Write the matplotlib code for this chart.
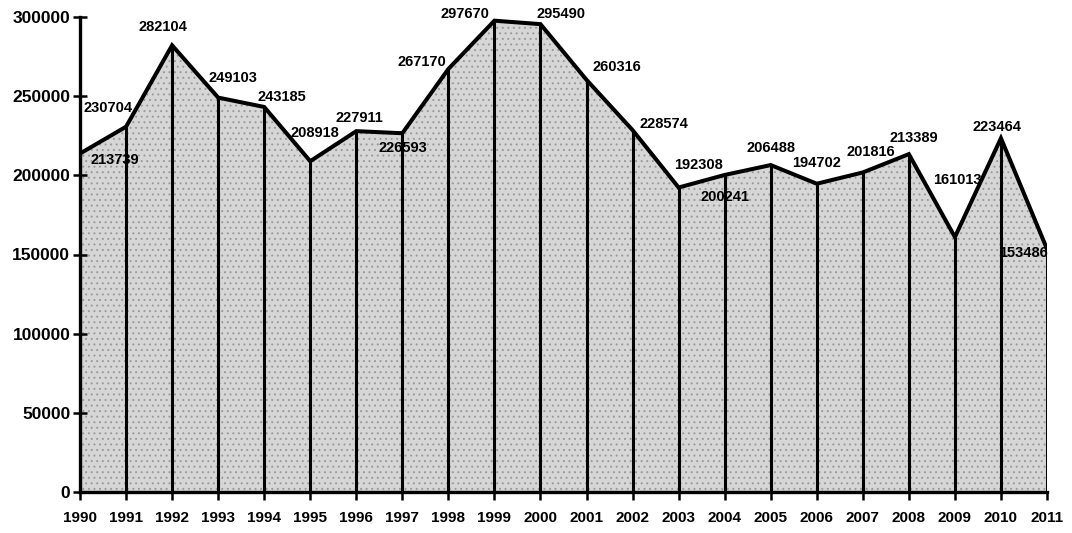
import matplotlib.pyplot as plt

years = list(range(1990, 2012))
values = [213739, 230704, 282104, 249103, 243185, 208918, 227911, 226593,
          267170, 297670, 295490, 260316, 228574, 192308, 200241, 206488,
          194702, 201816, 213389, 161013, 223464, 153486]
y_ticks = [0, 50000, 100000, 150000, 200000, 250000, 300000]

# where each value label sits relative to its point (pixels, y up)
label_offsets = [(35, -6), (-18, 19), (-9, 18), (15, 20), (18, 10), (5, 28),
                 (3, 13), (1, -15), (-27, 7), (-29, 7), (21, 10), (30, 13),
                 (31, 6), (20, 23), (0, -22), (0, 17), (0, 21), (8, 20),
                 (5, 16), (2, 57), (-4, 11), (-23, -4)]

plt.rcParams['font.family'] = ['Liberation Sans', 'DejaVu Sans']
plt.rcParams['font.weight'] = 'bold'
plt.rcParams['hatch.color'] = '#858585'
plt.rcParams['hatch.linewidth'] = 0.7

fig = plt.figure(figsize=(10.72, 5.33), dpi=100)
ax = fig.add_axes([80 / 1072, 41 / 533, 967 / 1072, 475 / 533])

ax.fill_between(years, values, 0, facecolor='#d6d6d6', edgecolor='#9a9a9a',
                hatch='...', linewidth=0)
ax.vlines(years, 0, values, color='black', linewidth=2.2)
ax.plot(years, values, color='black', linewidth=2.9, solid_joinstyle='miter')

for x, v, off in zip(years, values, label_offsets):
    ax.annotate(str(v), (x, v), xytext=off, textcoords='offset pixels',
                ha='center', va='center', fontsize=10.5, fontweight='bold')

ax.set_xlim(1990, 2011)
ax.set_ylim(0, 300000)
ax.set_xticks(years)
ax.set_xticklabels([str(y) for y in years], fontsize=11, fontweight='bold')
ax.set_yticks(y_ticks)
ax.set_yticklabels([str(t) for t in y_ticks], fontsize=12.5, fontweight='bold')

ax.spines['top'].set_visible(False)
ax.spines['right'].set_visible(False)
ax.spines['left'].set_linewidth(2.4)
ax.spines['bottom'].set_linewidth(2.4)
ax.tick_params(axis='y', direction='inout', length=10, width=1.8, pad=2)
ax.tick_params(axis='x', direction='out', length=6, width=1.8, pad=8)

plt.savefig('out.png', dpi=100)
plt.close(fig)
